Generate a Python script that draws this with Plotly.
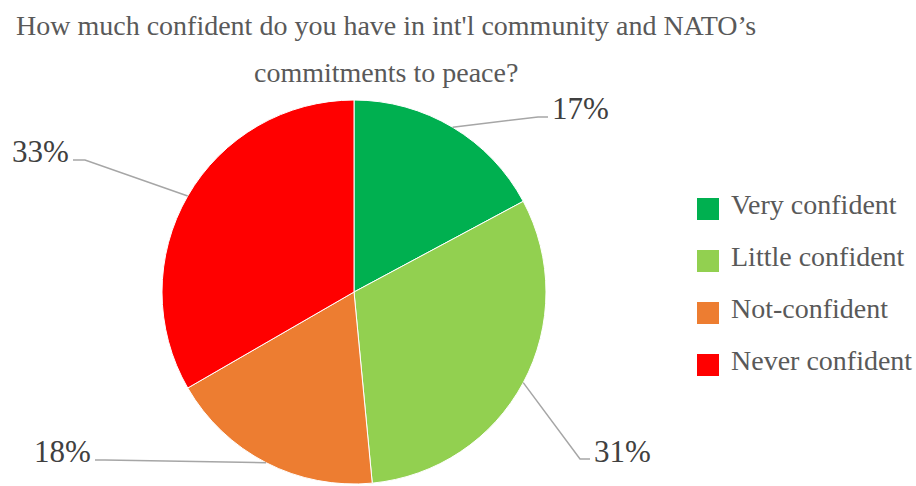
import math
import plotly.graph_objects as go

categories = ["Very confident", "Little confident", "Not-confident", "Never confident"]
values = [17, 31, 18, 33]
colors = ["#00B050", "#92D050", "#ED7D31", "#FF0000"]
title_lines = ["How much confident do you have in int'l community and NATO\u2019s",
               "commitments to peace?"]

W, H = 916, 486
FONT = "Palatino Linotype, Book Antiqua, Palatino, Liberation Serif, serif"
CX, CY, R = 354, 292, 192

def px(x):
    return x / W

def py(y):
    return 1 - y / H

fig = go.Figure(go.Pie(
    labels=categories, values=values, sort=False, direction="clockwise", rotation=0,
    marker=dict(colors=colors, line=dict(color="white", width=1)),
    textinfo="none", hoverinfo="label+percent", showlegend=False,
    domain=dict(x=[px(CX - R), px(CX + R)], y=[py(CY + R), py(CY - R)]),
))

# leader-line layout (elbow, end, text anchor) per slice, in pixels
label_layout = [
    dict(elbow=(538, 117), end=(548, 117), text=(550, 108), anchor="left"),
    dict(elbow=(580, 459), end=(590, 459), text=(592, 451), anchor="left"),
    dict(elbow=(105, 460), end=(95, 460), text=(93, 451), anchor="right"),
    dict(elbow=(85, 160), end=(73, 160), text=(71, 151), anchor="right"),
]

total = sum(values)
cum = 0
shapes = []
annotations = []
for v, lay in zip(values, label_layout):
    mid = (cum + v / 2) / total * 2 * math.pi
    cum += v
    ex = CX + R * math.sin(mid)
    ey = CY - R * math.cos(mid)
    (bx, by), (dx, dy) = lay["elbow"], lay["end"]
    path = f"M {px(ex)} {py(ey)} L {px(bx)} {py(by)} L {px(dx)} {py(dy)}"
    shapes.append(dict(type="path", xref="paper", yref="paper", path=path,
                       line=dict(color="#A6A6A6", width=1.5)))
    tx, ty = lay["text"]
    annotations.append(dict(x=px(tx), y=py(ty), xref="paper", yref="paper",
                            text=f"{round(v / total * 100)}%", showarrow=False,
                            xanchor=lay["anchor"], yanchor="middle",
                            font=dict(family=FONT, size=31, color="#404040")))

# title
for i, line in enumerate(title_lines):
    annotations.append(dict(x=px(386), y=py(26 + 46 * i), xref="paper", yref="paper",
                            text=line, showarrow=False, xanchor="center", yanchor="middle",
                            font=dict(family=FONT, size=28, color="#595959")))

# legend
for i, (cat, col) in enumerate(zip(categories, colors)):
    yc = 209 + 52 * i
    shapes.append(dict(type="rect", xref="paper", yref="paper",
                       x0=px(697), x1=px(719), y0=py(yc + 11), y1=py(yc - 11),
                       fillcolor=col, line=dict(width=0)))
    annotations.append(dict(x=px(729), y=py(yc - 5), xref="paper", yref="paper",
                            text=cat, showarrow=False, xanchor="left", yanchor="middle",
                            font=dict(family=FONT, size=28, color="#595959")))

fig.update_layout(width=W, height=H, margin=dict(l=0, r=0, t=0, b=0),
                  paper_bgcolor="white", plot_bgcolor="white",
                  shapes=shapes, annotations=annotations)
fig.write_html("out.html")
